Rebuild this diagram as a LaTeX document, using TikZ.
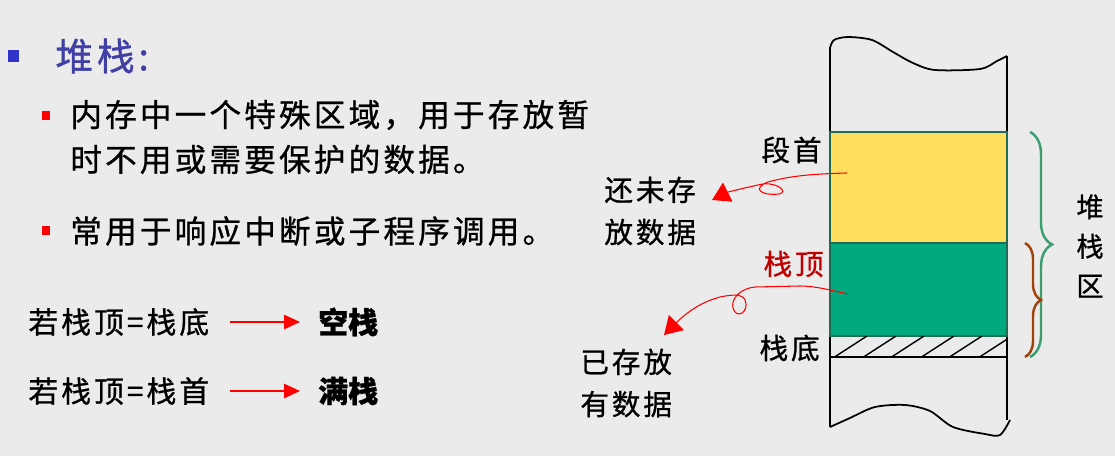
\documentclass[tikz,border=0pt]{standalone}
\usepackage{fontspec}
\usepackage{xcolor}
\usetikzlibrary{positioning,arrows.meta,decorations.pathreplacing}
\newfontfamily\cjk[LetterSpace=10,FakeBold=0.8]{Noto Sans CJK SC}
\newfontfamily\cjknarrow[FakeBold=0.8]{Noto Sans CJK SC}
\definecolor{slidebg}{HTML}{EBEBEB}
\definecolor{titleblue}{HTML}{3F3FA6}
\definecolor{bulletblue}{HTML}{3333CC}
\definecolor{stkyellow}{HTML}{FDDE5E}
\definecolor{stkgreen}{HTML}{00AA7E}
\definecolor{boxedge}{HTML}{1F6B58}
\definecolor{labelred}{HTML}{C00000}
\definecolor{bracegreen}{HTML}{3A9E70}
\definecolor{bracebrown}{HTML}{A0420C}

\begin{document}
\begin{tikzpicture}[x=0.02cm, y=-0.02cm,
  txt/.style={font=\cjk\fontsize{18}{25.5}\selectfont, inner sep=0pt,
              anchor=west, align=left},
  cond/.style={font=\cjk\fontsize{17}{20}\selectfont, inner sep=0pt,
               anchor=west},
  lbl/.style={font=\cjk\fontsize{16.3}{24}\selectfont, inner sep=0pt,
              align=left},
  segbox/.style={draw=boxedge, line width=1pt, minimum width=3.54cm,
                 inner sep=0pt},
  redarr/.style={-{Triangle[length=9pt,width=8pt]}, red, line width=1.3pt,
                 shorten <=20*0.02cm, shorten >=18*0.02cm},
  curlarr/.style={-{Triangle[length=10pt,width=12pt]}, red, line width=0.6pt},
  brace/.style={decorate, line width=1.4pt,
                decoration={brace, amplitude=#1}}
]
  \fill[slidebg] (0,0) rectangle (1115,456);
  \useasboundingbox (0,0) rectangle (1115,456);

  % left column of text
  \fill[bulletblue] (8,50) rectangle (19,62);
  \node[txt, font=\cjk\fontsize{21.5}{25}\selectfont, text=titleblue]
    (title) at (55,56) {堆栈:};
  \fill[red] (42,111) rectangle (50,120);
  \node[txt] (item1) at (70,137)
    {内存中一个特殊区域，用于存放暂\\时不用或需要保护的数据。};
  \fill[red] (42,226) rectangle (50,235);
  \node[txt] (item2) at (70,231) {常用于响应中断或子程序调用。};

  \node[cond] (cond1) at (28,322) {若栈顶=栈底};
  \node[cond, font=\cjknarrow\bfseries\fontsize{17}{20}\selectfont]
    (empty) at (318,322) {空栈};
  \node[cond] (cond2) at (28,391) {若栈顶=栈首};
  \node[cond, font=\cjknarrow\bfseries\fontsize{17}{20}\selectfont]
    (full) at (318,391) {满栈};
  \draw[redarr] (cond1) -- (empty);
  \draw[redarr] (cond2) -- (full);

  % memory column
  \draw[line width=1pt] (830,48) -- (830,427);
  \draw[line width=1pt] (1007,56) -- (1007,420);
  \draw[line width=1pt] plot[smooth] coordinates {(830,48) (834,40) (848,37)
    (872,40) (893,52) (913,63) (935,70) (980,69) (997,61) (1007,56)};
  \draw[line width=1pt] plot[smooth] coordinates {(830,427) (850,418)
    (875,407) (905,405) (930,411) (953,427) (985,434) (1000,435) (1010,420)};

  \node[segbox, fill=stkyellow, minimum height=2.22cm] (free) at (918.5,187.5) {};
  \node[segbox, fill=stkgreen, minimum height=1.86cm] (used) at (918.5,289.5) {};
  \begin{scope}
    \clip (830,336) rectangle (1007,357);
    \foreach \x in {833,862,890,920,948,978}
      \draw[line width=0.8pt] (\x,358) -- (\x+34,336);
  \end{scope}
  \draw[line width=1.2pt] (830,357) -- (1007,357);

  \node[lbl, anchor=east] (seghead) at (822,150) {段首};
  \node[lbl, anchor=east, text=labelred] (stktop) at (824,264) {栈顶};
  \node[lbl, anchor=east] (stkbot) at (820,348) {栈底};
  \node[lbl, anchor=west] (notyet) at (604,211) {还未存\\放数据};
  \node[lbl, anchor=west] (stored) at (580,383) {已存放\\有数据};
  \node[lbl, align=center, font=\cjknarrow\fontsize{15.5}{22.5}\selectfont]
    (heap) at (1090,246) {堆\\栈\\区};

  % hand drawn pointers
  \coordinate (freept) at (847,173);
  \coordinate (usedpt) at (848,294);
  \coordinate (tipa) at (712,200);
  \coordinate (tipb) at (664,335);
  \draw[curlarr] (freept) .. controls (810,174) and (790,176) .. (768,182)
    .. controls (752,188) and (760,196) .. (779,194)
    .. controls (790,192) and (775,180) .. (758,185)
    .. controls (740,189) and (728,192) .. (tipa);
  \draw[curlarr] (usedpt) .. controls (830,290) and (815,286) .. (800,286)
    -- (755,287)
    .. controls (738,289) and (731,300) .. (733,308)
    .. controls (736,320) and (750,312) .. (745,300)
    .. controls (742,293) and (730,295) .. (720,297)
    .. controls (702,302) and (690,310) .. (678,321) -- (tipb);

  % braces
  \draw[brace=22*0.02cm, bracegreen] (1030,132) -- (1030,357);
  \draw[brace=16*0.02cm, bracebrown] (1025,243) -- (1025,357);
\end{tikzpicture}
\end{document}
